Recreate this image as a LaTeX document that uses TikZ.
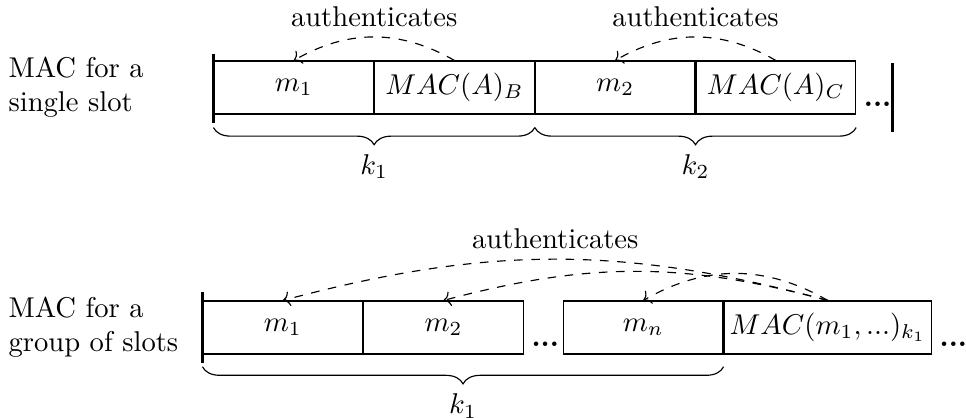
\documentclass[tikz,border=0pt]{standalone}
\usepackage{amsmath}
\usetikzlibrary{arrows.meta,calc,positioning,decorations.pathreplacing}
\tikzset{cell/.style={draw,minimum width=1.96cm,minimum height=0.65cm,inner sep=3.33pt},
  dotsn/.style={anchor=south west,inner sep=2.5pt,font=\bfseries},
  side/.style={anchor=west,align=left,inner sep=0pt},
  auth/.style={->,dashed},
  bar/.style={thick},
  brc/.style={decorate,decoration={brace,mirror,amplitude=6pt}}}

\begin{document}
\begin{tikzpicture}
\useasboundingbox (0,0) rectangle (11.867,-5.135);
\node[side] (labA) at (0.098,-1.075) {MAC for a\\single slot};
\node[cell] (m1) at (3.609,-1.075) {$m_1$};
\node[cell,right=0pt of m1] (macB) {$MAC(A)_B$};
\node[cell,right=0pt of macB] (m2) {$m_2$};
\node[cell,right=0pt of m2] (macC) {$MAC(A)_C$};
\node[dotsn] (dotsA) at (macC.south east) {...};
\draw[bar] ($(m1.north west)+(0,0.08)$) -- ($(m1.south west)+(0,-0.1)$);
\draw[bar] ($(dotsA.east)+(-0.08,0.51)$) -- ($(dotsA.east)+(-0.08,-0.34)$);
\draw[auth] (macB.north) to[bend right] node[above]{authenticates} (m1.north);
\draw[auth] (macC.north) to[bend right] node[above]{authenticates} (m2.north);
\draw[brc] ($(m1.south west)+(0,-0.16)$) -- ($(macB.south east)+(0,-0.16)$) node[midway,below=6pt]{$k_1$};
\draw[brc] ($(m2.south west)+(0,-0.16)$) -- ($(macC.south east)+(0,-0.16)$) node[midway,below=6pt]{$k_2$};

\node[side] (labB) at (0.098,-4.023) {MAC for a\\group of slots};
\node[cell] (g1) at (3.474,-4.023) {$m_1$};
\node[cell,right=0pt of g1] (g2) {$m_2$};
\node[dotsn] (dotsB) at (g2.south east) {...};
\node[cell,right=0.48cm of g2] (gn) {$m_n$};
\node[cell,right=0pt of gn,inner xsep=1.9pt] (macG) {$MAC(m_1, ...)_{k_1}$};
\node[dotsn] (dotsC) at (macG.south east) {...};
\draw[bar] ($(g1.north west)+(0,0.11)$) -- ($(g1.south west)+(0,-0.11)$);
\draw[auth] (macG.north) to[bend right=15] node[above]{authenticates} (g1.north);
\draw[auth] (macG.north) to[bend right=15] (g2.north);
\draw[auth] (macG.north) to[bend right] (gn.north);
\draw[brc] ($(g1.south west)+(0,-0.15)$) -- ($(gn.south east)+(0,-0.15)$) node[midway,below=6pt]{$k_1$};
\end{tikzpicture}
\end{document}
